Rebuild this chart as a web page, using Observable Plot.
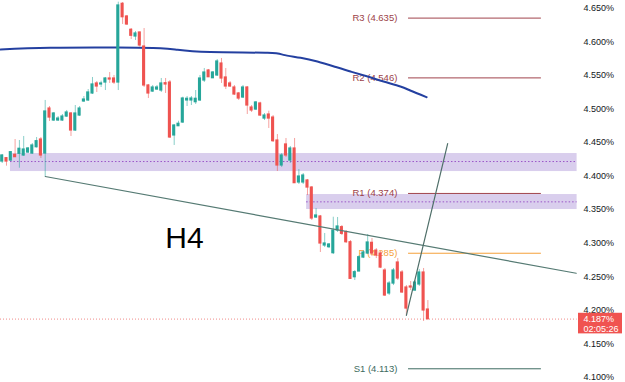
<!DOCTYPE html>
<html>
<head>
<meta charset="utf-8">
<script src="https://cdn.jsdelivr.net/npm/d3@7"></script>
<script src="https://cdn.jsdelivr.net/npm/@observablehq/plot@0.6"></script>
<style>
  html, body { margin: 0; padding: 0; background: #ffffff; }
  #chart svg { display: block; overflow: visible; }
</style>
</head>
<body>
<div id="chart"></div>
<script>
// ---- data ----
const opens = [
4.4215,4.4265,4.4230,4.4315,4.4330,4.4305,4.4349,4.4334,4.4428,4.4543,
4.4334,4.5004,4.4826,4.4826,4.4826,4.4885,4.4930,4.4677,4.4900,4.5109,
4.5124,4.5228,4.5377,4.5362,4.5391,4.5451,4.5451,4.5391,4.6563,4.6374,
4.6176,4.6076,4.6136,4.5927,4.5347,4.5257,4.5287,4.5272,4.5381,4.5391,
4.4603,4.4741,4.4796,4.5124,4.5124,4.5098,4.5124,4.5421,4.5570,4.5455,
4.5496,4.5674,4.5466,4.5377,4.5317,4.5228,4.5168,4.5317,4.5019,4.4989,
4.5079,4.4855,4.4915,4.4870,4.4528,4.4156,4.4469,4.4230,4.4409,4.3903,
4.3903,4.3933,4.3828,4.3382,4.3397,4.2965,4.2940,4.2851,4.3188,4.3238,
4.3163,4.3014,4.2493,4.2578,4.2786,4.2846,4.3005,4.2890,4.2846,4.2593,
4.2251,4.2399,4.2712,4.2563,4.2340,4.2355,4.2295,4.2385,4.2563,4.2012];
const closes = [
4.4305,4.4215,4.4354,4.4280,4.4405,4.4394,4.4409,4.4454,4.4518,4.4305,
4.4960,4.4870,4.4930,4.4855,4.4885,4.4945,4.4677,4.4930,4.5004,4.5138,
4.5243,4.5362,4.5332,4.5377,4.5451,4.5436,4.5391,4.6538,4.6363,4.6255,
4.6087,4.6121,4.5942,4.5347,4.5228,4.5317,4.5317,4.5377,4.5362,4.4573,
4.4751,4.4777,4.5153,4.5149,4.5153,4.5149,4.5451,4.5540,4.5470,4.5540,
4.5704,4.5451,4.5332,4.5332,4.5213,4.5153,4.5317,4.5049,4.4975,4.5094,
4.4900,4.4900,4.4855,4.4518,4.4156,4.4305,4.4305,4.4409,4.3893,4.3992,
4.4007,4.3828,4.3367,4.3412,4.2995,4.2995,4.2980,4.3188,4.3248,4.3139,
4.3014,4.2469,4.2568,4.2791,4.2861,4.3010,4.2846,4.2816,4.2637,4.2221,
4.2399,4.2593,4.2474,4.2266,4.2027,4.2340,4.2414,4.2563,4.1998,4.1870];
const highs = [
4.4320,4.4275,4.4364,4.4543,4.4528,4.4588,4.4424,4.4483,4.4573,4.4573,
4.5124,4.5034,4.4945,4.4885,4.4915,4.4975,4.4945,4.5049,4.5034,4.5183,
4.5287,4.5466,4.5406,4.5411,4.5466,4.5540,4.5496,4.6587,4.6582,4.6389,
4.6195,4.6151,4.6140,4.6195,4.5362,4.5347,4.5347,4.5451,4.5451,4.5421,
4.4766,4.4815,4.5173,4.5183,4.5183,4.5272,4.5496,4.5600,4.5585,4.5555,
4.5734,4.5749,4.5600,4.5406,4.5347,4.5243,4.5347,4.5332,4.5049,4.5109,
4.5098,4.4930,4.4964,4.4900,4.4617,4.4334,4.4558,4.4439,4.4558,4.4096,
4.4037,4.3948,4.3843,4.3516,4.3412,4.3144,4.2995,4.3386,4.3382,4.3263,
4.3188,4.3039,4.2593,4.2816,4.2890,4.3129,4.3069,4.2920,4.2876,4.2623,
4.2429,4.2623,4.2772,4.2593,4.2370,4.2429,4.2444,4.2608,4.2623,4.2146];
const lows = [
4.4186,4.4146,4.4215,4.4275,4.4116,4.4290,4.4334,4.4320,4.4416,4.4260,
4.3992,4.4811,4.4811,4.4811,4.4811,4.4870,4.4588,4.4662,4.4885,4.5094,
4.5109,4.5213,4.5243,4.5317,4.5272,4.5377,4.5362,4.5272,4.6255,4.6240,
4.6031,4.6017,4.5917,4.5317,4.5153,4.5243,4.5272,4.5243,4.5228,4.4558,
4.4454,4.4736,4.4781,4.5034,4.5049,4.5064,4.5109,4.5391,4.5466,4.5451,
4.5481,4.5377,4.5287,4.5317,4.5198,4.5124,4.5153,4.4915,4.4945,4.4975,
4.4885,4.4826,4.4707,4.4498,4.4067,4.4126,4.4275,4.4186,4.3888,4.3873,
4.3873,4.3709,4.3337,4.3367,4.2861,4.2935,4.2920,4.2831,4.3159,4.3114,
4.2995,4.2459,4.2444,4.2578,4.2771,4.2831,4.2801,4.2771,4.2622,4.2206,
4.2221,4.2369,4.2444,4.2251,4.1923,4.2295,4.2280,4.2355,4.1834,4.1848];

// moving average (blue curve): candle index and value
const maIndex = [-0.4, 11.2, 26.8, 36.8, 40.8, 48.4, 61.7, 65.4, 69.4, 73.3, 77.0, 81.0, 85.0, 88.7, 92.6, 94.9, 98.7];
const maValue = [4.5882,4.5908,4.5912,4.5902,4.5878,4.5845,4.5833,4.5803,4.5759,4.5704,4.5634,4.5555,4.5480,4.5406,4.5331,4.5272,4.5172];

// pivot levels
const pivotNames  = ["R3", "R2", "R1", "P", "S1"];
const pivotValues = [4.635, 4.546, 4.374, 4.285, 4.113];

// supply/demand zones
const zoneStart  = [1.93, 70.8];
const zoneTop    = [4.4334, 4.3724];
const zoneBottom = [4.4066, 4.3501];
const zoneMid    = [4.4215, 4.3615];

// trend lines (index, value)
const trend1Index = [10, 133.5];
const trend1Value = [4.3992, 4.2552];
const trend2Index = [94, 103.6];
const trend2Value = [4.1925, 4.4483];

// price axis ticks
const yTicks = [4.10, 4.15, 4.20, 4.25, 4.30, 4.35, 4.40, 4.45, 4.50, 4.55, 4.60, 4.65];
const lastPrice = 4.187;
const countdown = "02:05:26";
const timeframe = "H4";

// ---- build tables ----
const candles = opens.map((o, i) => ({i, o, c: closes[i], h: highs[i], l: lows[i], up: closes[i] >= o}));
const ma = maIndex.map((i, k) => ({i, v: maValue[k]}));
const pivots = pivotNames.map((n, k) => ({n, v: pivotValues[k], label: `${n} (${pivotValues[k].toFixed(3)})`}));
const zones = zoneStart.map((s, k) => ({s, t: zoneTop[k], b: zoneBottom[k], m: zoneMid[k]}));
const trend1 = trend1Index.map((i, k) => ({i, v: trend1Value[k]}));
const trend2 = trend2Index.map((i, k) => ({i, v: trend2Value[k]}));

const UP = "#26a69a", DOWN = "#ef5350";
const xMin = -0.395, xMax = 133.33;
const pivotX1 = 94.5, pivotX2 = 125.4, pivotLabelX = 91.9;
const pivotColor = v => v === 4.285 ? "#f5a03a" : (v < 4.2 ? "#3d6b60" : "#a0434c");
const pivotText  = v => v === 4.285 ? "#f5a03a" : (v < 4.2 ? "#3d6b60" : "#9c3f48");
const FONT = "Liberation Sans, Arial, sans-serif";

const chart = Plot.plot({
  width: 625,
  height: 382,
  marginLeft: 0,
  marginRight: 50,
  marginTop: 0,
  marginBottom: 0,
  style: {fontFamily: FONT, background: "#ffffff", overflow: "visible"},
  x: {domain: [xMin, xMax], axis: null},
  y: {domain: [4.0926, 4.6612], axis: null},
  marks: [
    // zones
    Plot.rect(zones, {x1: "s", x2: 133.7, y1: "b", y2: "t", fill: "#b39ddb", fillOpacity: 0.5}),
    Plot.ruleY(zones, {y: "m", x1: "s", x2: 133.7, stroke: "#9a55c8", strokeDasharray: "1.5,2", strokeWidth: 1}),
    // current price dotted line
    Plot.ruleY([lastPrice], {x1: xMin, x2: 133.7, stroke: "#f08a88", strokeDasharray: "1,2", strokeWidth: 1}),
    // pivot lines and labels
    Plot.ruleY(pivots, {y: "v", x1: pivotX1, x2: pivotX2, stroke: d => pivotColor(d.v), strokeWidth: 1}),
    Plot.text(pivots, {x: pivotLabelX, y: "v", text: "label", textAnchor: "end", fill: d => pivotText(d.v), fontSize: 9.5}),
    // moving average
    Plot.line(ma, {x: "i", y: "v", stroke: "#2440a0", strokeWidth: 2, curve: "natural"}),
    // candles: wicks and bodies
    Plot.ruleX(candles, {x: "i", y1: "l", y2: "h", stroke: d => d.up ? UP : DOWN, strokeOpacity: 0.55, strokeWidth: 1}),
    Plot.rect(candles, {x1: d => d.i - 0.36, x2: d => d.i + 0.36, y1: d => Math.min(d.o, d.c), y2: d => Math.max(d.o, d.c), fill: d => d.up ? UP : DOWN, insetTop: -0.6, insetBottom: -0.6}),
    // trend lines
    Plot.line(trend1, {x: "i", y: "v", stroke: "#557a73", strokeWidth: 1.2}),
    Plot.line(trend2, {x: "i", y: "v", stroke: "#4f6f69", strokeWidth: 1.2}),
    // timeframe label
    Plot.text([timeframe], {x: 42.4, y: 4.3075, text: d => d, fontSize: 30, fill: "#000000", textAnchor: "middle"}),
    // price axis labels
    Plot.text(yTicks, {y: d => d, frameAnchor: "right", dx: 8, textAnchor: "start", text: d => d.toFixed(3) + "%", fontSize: 9, fill: "#131722"}),
    // current price tag
    Plot.rect([lastPrice], {x1: xMax, x2: xMax, y1: d => d, y2: d => d, insetLeft: 3, insetRight: -47, insetTop: -5.8, insetBottom: -14.8, fill: "#f05350"}),
    Plot.text([lastPrice], {y: d => d, frameAnchor: "right", dx: 8, dy: 0.5, textAnchor: "start", text: d => d.toFixed(3) + "%", fontSize: 9, fill: "#ffffff"}),
    Plot.text([lastPrice], {y: d => d, frameAnchor: "right", dx: 8, dy: 10.5, textAnchor: "start", text: () => countdown, fontSize: 9, fill: "#ffffff"})
  ]
});
document.getElementById("chart").appendChild(chart);
</script>
</body>
</html>
